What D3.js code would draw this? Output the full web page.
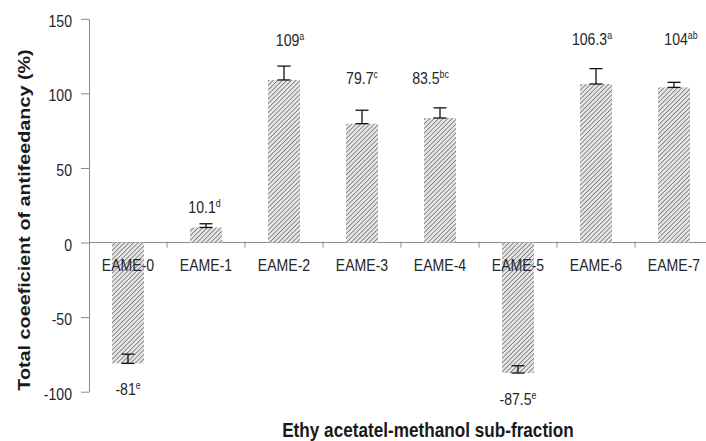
<!DOCTYPE html>
<html>
<head>
<meta charset="utf-8">
<script src="https://cdnjs.cloudflare.com/ajax/libs/d3/7.8.5/d3.min.js"></script>
<style>
    body { margin: 0; background: #fff; }
    svg { display: block; }
</style>
</head>
<body>
<div id="chart-area"></div>
<script>
// data
var fractions = ["EAME-0", "EAME-1", "EAME-2", "EAME-3", "EAME-4", "EAME-5", "EAME-6", "EAME-7"];
var values = [-81, 10.1, 109, 79.7, 83.5, -87.5, 106.3, 104];
var errors = [6.2, 2.5, 9.3, 9, 6.8, 4.9, 10.3, 3.4];
var letters = ["e", "d", "a", "c", "bc", "e", "a", "ab"];
var valueText = ["-81", "10.1", "109", "79.7", "83.5", "-87.5", "106.3", "104"];
var yTicks = [-100, -50, 0, 50, 100, 150];

// where the value labels sit (data units) and their nudge in px
var labelAt = [-102.3, 19.8, 131.5, 106.5, 106.5, -109, 132.2, 132.2];
var labelDx = [0, -1.5, 6, 0, -9.5, 0, -4, 7];

var W = 706, H = 441;
var squeeze = 0.88; // the original figure is a bit narrower than its fonts
var font = "'Liberation Sans', Arial, sans-serif";

var svg = d3.select("#chart-area").append("svg")
    .attr("width", W)
    .attr("height", H);

var defs = svg.append("defs");
var pat = defs.append("pattern")
    .attr("id", "hatch")
    .attr("patternUnits", "userSpaceOnUse")
    .attr("width", 3.2)
    .attr("height", 3.2)
    .attr("patternTransform", "rotate(45)");
pat.append("rect").attr("width", 3.2).attr("height", 3.2).attr("fill", "#e6e6e6");
pat.append("line")
    .attr("x1", 0).attr("y1", 0)
    .attr("x2", 0).attr("y2", 3.2)
    .attr("stroke", "#6e6e6e")
    .attr("stroke-width", 1.5);

var x = d3.scaleBand()
    .domain(fractions)
    .range([89, 713])
    .paddingInner(0.59)
    .paddingOuter(0.295);

var y = d3.scaleLinear()
    .domain([-100, 150])
    .range([391.7, 18.8]);

function place(sel, px, py, extra) {
    sel.attr("transform", "translate(" + px + "," + py + ") scale(" + squeeze + ",1)" + (extra || ""));
    return sel;
}

// Y axis
var yAxisGroup = svg.append("g")
    .attr("transform", "translate(89,0)")
    .call(d3.axisLeft(y).tickValues(yTicks).tickSize(8).tickSizeOuter(0).tickFormat(""));
yAxisGroup.selectAll("path, line").attr("stroke", "#8a8a8a");

svg.selectAll(".ytick-label")
    .data(yTicks)
    .enter().append("text")
    .attr("class", "ytick-label")
    .attr("text-anchor", "end")
    .attr("font-family", font)
    .attr("font-size", "16px")
    .attr("fill", "#262626")
    .text((d) => { return d; })
    .each(function(d) { place(d3.select(this), 72, y(d) + 8); });

// X axis on the zero line, ticks at band edges
var zero = y(0);
svg.append("line")
    .attr("x1", 89).attr("x2", 713)
    .attr("y1", zero).attr("y2", zero)
    .attr("stroke", "#8a8a8a");

var edges = d3.range(fractions.length + 1).map((i) => { return x.range()[0] + i * x.step(); });
svg.selectAll(".xtick")
    .data(edges.slice(1))
    .enter().append("line")
    .attr("class", "xtick")
    .attr("x1", (d) => { return d; })
    .attr("x2", (d) => { return d; })
    .attr("y1", zero - 1)
    .attr("y2", zero + 5)
    .attr("stroke", "#8a8a8a");

// Bars
svg.selectAll(".bar")
    .data(values)
    .enter().append("rect")
    .attr("class", "bar")
    .attr("x", (d, i) => { return x(fractions[i]); })
    .attr("width", x.bandwidth())
    .attr("y", (d) => { return y(Math.max(0, d)); })
    .attr("height", (d) => { return Math.abs(y(d) - y(0)); })
    .attr("fill", "url(#hatch)");

// category labels (drawn after bars, they overlap the negative ones)
svg.selectAll(".xlabel")
    .data(fractions)
    .enter().append("text")
    .attr("class", "xlabel")
    .attr("text-anchor", "middle")
    .attr("font-family", font)
    .attr("font-size", "16px")
    .attr("fill", "#262626")
    .text((d) => { return d; })
    .each(function(d) { place(d3.select(this), x(d) + x.bandwidth() / 2, 271); });

// Error bars, plus direction only
var cap = 6.5;
var eb = svg.selectAll(".err")
    .data(values)
    .enter().append("g")
    .attr("class", "err")
    .attr("stroke", "#111")
    .attr("stroke-width", 1.3);
eb.append("line")
    .attr("x1", (d, i) => { return x(fractions[i]) + x.bandwidth() / 2; })
    .attr("x2", (d, i) => { return x(fractions[i]) + x.bandwidth() / 2; })
    .attr("y1", (d) => { return y(d); })
    .attr("y2", (d, i) => { return y(d + errors[i]); });
eb.append("line")
    .attr("x1", (d, i) => { return x(fractions[i]) + x.bandwidth() / 2 - cap; })
    .attr("x2", (d, i) => { return x(fractions[i]) + x.bandwidth() / 2 + cap; })
    .attr("y1", (d, i) => { return y(d + errors[i]); })
    .attr("y2", (d, i) => { return y(d + errors[i]); });
eb.append("line")
    .attr("x1", (d, i) => { return x(fractions[i]) + x.bandwidth() / 2 - cap; })
    .attr("x2", (d, i) => { return x(fractions[i]) + x.bandwidth() / 2 + cap; })
    .attr("y1", (d) => { return y(d); })
    .attr("y2", (d) => { return y(d); });

// value labels with significance letters
var vl = svg.selectAll(".vlabel")
    .data(values)
    .enter().append("text")
    .attr("class", "vlabel")
    .attr("text-anchor", "middle")
    .attr("font-family", font)
    .attr("font-size", "16px")
    .attr("fill", "#262626")
    .each(function(d, i) {
        place(d3.select(this), x(fractions[i]) + x.bandwidth() / 2 + labelDx[i], y(labelAt[i]));
    });
vl.append("tspan").text((d, i) => { return valueText[i]; });
vl.append("tspan")
    .attr("font-size", "10px")
    .attr("dy", -6)
    .text((d, i) => { return letters[i]; });

// axis titles
place(svg.append("text"), 428, 437)
    .attr("text-anchor", "middle")
    .attr("font-family", font)
    .attr("font-weight", "bold")
    .attr("font-size", "19.5px")
    .attr("fill", "#1a1a1a")
    .text("Ethy acetatel-methanol sub-fraction");

place(svg.append("text"), 30, 220, " rotate(-90)")
    .attr("text-anchor", "middle")
    .attr("font-family", font)
    .attr("font-weight", "bold")
    .attr("font-size", "19.8px")
    .attr("fill", "#1a1a1a")
    .text("Total coeeficient of antifeedancy (%)");
</script>
</body>
</html>
